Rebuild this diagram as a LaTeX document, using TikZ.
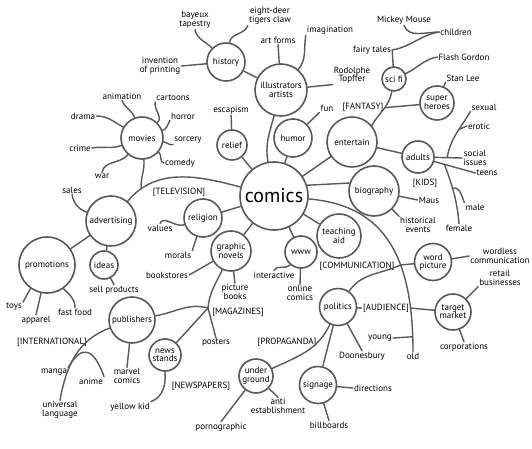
\documentclass[tikz,border=0pt]{standalone}
\usepackage{fontspec}
\setmainfont{PT Sans}
\colorlet{inkgray}{black!65}
\newcommand{\labelfont}{\fontsize{9}{8.5}\selectfont}
\tikzset{
  bubble/.style={circle, draw=inkgray, line width=1.6pt, fill=white, inner sep=0pt,
    minimum size=#1, align=center, font=\labelfont},
  leaf/.style={inner sep=1pt, align=center, font=\labelfont},
  bracket/.style={inner sep=1pt, font=\labelfont},
  branch/.style={draw=inkgray, line width=1.4pt, line cap=round},
}
\begin{document}
\begin{tikzpicture}[x=1pt,y=-1pt]

	%Background
	\fill[white] (0,0) rectangle (532,449);
	\useasboundingbox (0,0) rectangle (532,449);

	%Bubbles
	\node[bubble=68, font=\fontsize{20}{22}\selectfont] (comics) at (274,196) {comics};
	\node[bubble=38] (history) at (226,62) {history};
	\node[bubble=52] (illus) at (281,90) {illustrators\\artists};
	\node[bubble=38] (humor) at (293,138) {humor};
	\node[bubble=30] (relief) at (232,145) {relief};
	\node[bubble=42] (movies) at (142,138) {movies};
	\node[bubble=50] (entertain) at (352,142) {entertain};
	\node[bubble=24] (scifi) at (394,79) {sci fi};
	\node[bubble=34] (heroes) at (437,103) {super\\heroes};
	\node[bubble=32] (adults) at (418,157) {adults};
	\node[bubble=50] (biography) at (374,191) {biography};
	\node[bubble=50] (advertising) at (111,221) {advertising};
	\node[bubble=56] (promotions) at (47,265) {promotions};
	\node[bubble=28] (ideas) at (104,265) {ideas};
	\node[bubble=38] (religion) at (203,218) {religion};
	\node[bubble=40] (graphic) at (231,251) {graphic\\novels};
	\node[bubble=32] (www) at (301,252) {www};
	\node[bubble=44] (teaching) at (339,236) {teaching\\aid};
	\node[bubble=37] (wordpic) at (433,262) {word\\picture};
	\node[bubble=37] (politics) at (338,307) {politics};
	\node[bubble=36] (target) at (453,312) {target\\market};
	\node[bubble=46] (publishers) at (132,320) {publishers};
	\node[bubble=32] (newsstands) at (165,355) {news\\stands};
	\node[bubble=34] (underground) at (256,376) {under\\ground};
	\node[bubble=37] (signage) at (318,385) {signage};

	%Leaves
	%history, illustrators
	\node[leaf] (bayeux) at (195,20) {bayeux\\tapestry};
	\node[leaf] (eightdeer) at (270,16) {eight-deer\\tigers claw};
	\node[leaf] (invention) at (160,66) {invention\\of printing};
	\node[leaf] (artforms) at (278,40) {art forms};
	\node[leaf] (imagination) at (330,30) {imagination};
	\node[leaf] (toepffer) at (352,75) {Rodolphe\\Topffer};
	\node[leaf] (escapism) at (231,110) {escapism};
	\node[leaf] (fun) at (327,108) {fun};
	%entertain
	\node[leaf] (mickey) at (404,20) {Mickey Mouse};
	\node[leaf] (children) at (456,32) {children};
	\node[leaf] (fairy) at (372,50) {fairy tales};
	\node[leaf] (flash) at (464,57) {Flash Gordon};
	\node[leaf] (stanlee) at (463,78) {Stan Lee};
	\node[leaf] (sexual) at (484,107) {sexual};
	\node[leaf] (erotic) at (479,126) {erotic};
	\node[leaf] (social) at (475,158) {social\\issues};
	\node[leaf] (teens) at (487,173) {teens};
	\node[leaf] (male) at (475,207) {male};
	\node[leaf] (female) at (459,228) {female};
	\node[leaf] (maus) at (429,200) {Maus};
	\node[leaf] (historical) at (418,225) {historical\\events};
	%movies
	\node[leaf] (animation) at (122,96) {animation};
	\node[leaf] (cartoons) at (173,98) {cartoons};
	\node[leaf] (drama) at (83,116) {drama};
	\node[leaf] (horror) at (183,116) {horror};
	\node[leaf] (sorcery) at (188,140) {sorcery};
	\node[leaf] (crime) at (80,148) {crime};
	\node[leaf] (comedy) at (180,163) {comedy};
	\node[leaf] (war) at (102,176) {war};
	%advertising, religion, graphic novels
	\node[leaf] (sales) at (72,190) {sales};
	\node[leaf] (values) at (160,228) {values};
	\node[leaf] (morals) at (178,255) {morals};
	\node[leaf] (bookstores) at (167,275) {bookstores};
	\node[leaf] (picturebooks) at (235,292) {picture\\books};
	\node[leaf] (sellproducts) at (114,290) {sell products};
	\node[leaf] (toys) at (14,307) {toys};
	\node[leaf] (apparel) at (36,320) {apparel};
	\node[leaf] (fastfood) at (75,312) {fast food};
	%www, word picture, politics
	\node[leaf] (interactive) at (274,275) {interactive};
	\node[leaf] (online) at (300,293) {online\\comics};
	\node[leaf] (wordless) at (500,256) {wordless\\communication};
	\node[leaf] (retail) at (500,278) {retail\\businesses};
	\node[leaf] (corporations) at (464,347) {corporations};
	\node[leaf] (young) at (380,338) {young};
	\node[leaf] (old) at (413,356) {old};
	\node[leaf] (doonesbury) at (362,356) {Doonesbury};
	\node[leaf] (directions) at (373,388) {directions};
	\node[leaf] (billboards) at (329,425) {billboards};
	\node[leaf] (antiest) at (278,406) {anti\\establishment};
	\node[leaf] (porno) at (221,427) {pornographic};
	%publishers
	\node[leaf] (posters) at (216,343) {posters};
	\node[leaf] (yellowkid) at (130,407) {yellow kid};
	\node[leaf] (marvel) at (127,376) {marvel\\comics};
	\node[leaf] (manga) at (54,372) {manga};
	\node[leaf] (anime) at (91,381) {anime};
	\node[leaf] (universal) at (60,410) {universal\\language};

	%Brackets
	\node[bracket] (television) at (179,192) {[TELEVISION]};
	\node[bracket] (fantasy) at (363,107) {[FANTASY]};
	\node[bracket] (kids) at (425,183) {[KIDS]};
	\node[bracket] (communication) at (357,266) {[COMMUNICATION]};
	\node[bracket] (audience) at (386,308) {[AUDIENCE]};
	\node[bracket] (propaganda) at (287,342) {[PROPAGANDA]};
	\node[bracket] (magazines) at (238,312) {[MAGAZINES]};
	\node[bracket] (newspapers) at (201,386) {[NEWSPAPERS]};
	\node[bracket] (international) at (52,342) {[INTERNATIONAL]};
	\coordinate (magj) at (208,308);

	%history
	\draw[branch] (bayeux.south) to[out=-80,in=135] (history);
	\draw[branch] (eightdeer.south west) to[out=-110,in=80] (history);
	\draw[branch] (invention.east) -- (history);
	\draw[branch] (history) -- (illus);

	%illustrators
	\draw[branch] (artforms.south) -- (illus);
	\draw[branch] (imagination.south west) to[out=-100,in=50] (illus);
	\draw[branch] (illus) -- (toepffer.south west);
	\draw[branch] (illus) to[out=-105,in=100] (comics);

	%relief, humor
	\draw[branch] (escapism) -- (relief);
	\draw[branch] (relief) -- (comics);
	\draw[branch] (humor) -- (fun.south west);
	\draw[branch] (humor) -- (comics);

	%movies
	\draw[branch] (animation.south) to[out=-70,in=110] (movies);
	\draw[branch] (cartoons.south west) to[out=-100,in=45] (movies);
	\draw[branch] (drama.east) to[out=0,in=150] (movies);
	\draw[branch] (horror.south west) to[out=-120,in=20] (movies);
	\draw[branch] (sorcery.south west) to[out=200,in=-10] (movies);
	\draw[branch] (crime.east) to[out=10,in=200] (movies);
	\draw[branch] (comedy.west) to[out=180,in=-40] (movies);
	\draw[branch] (war.north) to[out=80,in=230] (movies);
	\draw[branch] (advertising) to[out=50,in=165] coordinate[pos=0.15] (tvj) (comics);
	\draw[branch] (movies) to[out=-85,in=95] (tvj);

	%advertising
	\draw[branch] (sales.south) to[out=-80,in=160] (advertising);
	\draw[branch] (ideas) -- (advertising);
	\draw[branch] (promotions) -- (advertising);
	\draw[branch] (promotions.235) -- (toys.north east);
	\draw[branch] (promotions.258) -- (apparel.north);
	\draw[branch] (promotions.305) to[out=-45,in=90] (fastfood.north);
	\draw[branch] (ideas) -- (sellproducts.north);

	%religion, graphic novels
	\draw[branch] (values.north) to[out=70,in=200] (religion);
	\draw[branch] (morals.north east) -- (religion);
	\draw[branch] (religion) -- (comics);
	\draw[branch] (graphic) -- (comics);
	\draw[branch] (bookstores.east) -- (graphic);
	\draw[branch] (graphic) -- (picturebooks.north);
	\draw[branch] (graphic) to[out=-115,in=85] (magj);
	\draw[branch] (publishers) to[out=10,in=165] (magj);
	\draw[branch] (newsstands) -- (magj);
	\draw[branch] (magj) -- (posters.north);

	%www, teaching aid
	\draw[branch] (www) -- (comics);
	\draw[branch] (www) to[out=-130,in=70] (interactive.north);
	\draw[branch] (www) -- (online.north);
	\draw[branch] (teaching) -- (comics);

	%communication
	\draw[branch] (comics) .. controls (380,205) and (413,250) .. coordinate[pos=0.65] (commj) coordinate[pos=0.95] (youngj) (old);
	\draw[branch] (commj) -- (wordpic);
	\draw[branch] (politics) to[out=55,in=205] (commj);
	\draw[branch] (wordpic) -- (wordless.west);
	\draw[branch] (politics) -- (audience.west);
	\draw[branch] (audience.east) -- (target);
	\draw[branch] (young.east) -- (youngj);
	\draw[branch] (target) -- (retail.south west);
	\draw[branch] (target) -- (corporations.north);
	\draw[branch] (politics) -- (doonesbury.north);

	%propaganda
	\draw[branch] (underground) to[out=25,in=-115] (politics);
	\draw[branch] (signage) -- (politics);
	\draw[branch] (underground) -- (antiest.north);
	\draw[branch] (underground) -- (porno.north);
	\draw[branch] (signage) -- (directions.west);
	\draw[branch] (signage) -- (billboards.north);

	%publishers
	\draw[branch] (publishers) -- (marvel.north);
	\draw[branch] (publishers) to[out=200,in=80] (universal.north);
	\draw[branch] (manga.north east) to[out=60,in=110,looseness=2] (anime.north east);
	\draw[branch] (newsstands.south) to[out=-85,in=20] (yellowkid.north east);

	%entertain
	\draw[branch] (entertain) -- (comics);
	\draw[branch] (comics.18) -- (biography.162);
	\draw[branch] (entertain.40) to[out=60,in=-100] coordinate[pos=0.55] (fanj) (scifi);
	\draw[branch] (heroes) -- (fanj);
	\draw[branch] (scifi) -- (fairy.east);
	\draw[branch] (fairy.east) to[out=10,in=190] (children.west);
	\draw[branch] (mickey.south) to[out=-70,in=180] (children.west);
	\draw[branch] (scifi) to[out=25,in=190] (flash.west);
	\draw[branch] (heroes) -- (stanlee.south west);
	\draw[branch] (entertain) -- (adults);

	%adults
	\draw[branch] (adults) -- coordinate[pos=0.45] (sexj) (social.west);
	\draw[branch] (sexj) to[out=80,in=-120] coordinate[pos=0.6] (erj) (sexual.south west);
	\draw[branch] (erotic.west) -- (erj);
	\draw[branch] (adults) -- coordinate[pos=0.25] (kidsj) (teens.west);
	\draw[branch] (kidsj) to[out=-70,in=95] coordinate[pos=0.4] (malej) (female.north);
	\draw[branch] (malej) to[out=10,in=110] (male.north west);

	%biography
	\draw[branch] (biography) -- (maus.west);
	\draw[branch] (biography) -- (historical.north west);

\end{tikzpicture}
\end{document}
